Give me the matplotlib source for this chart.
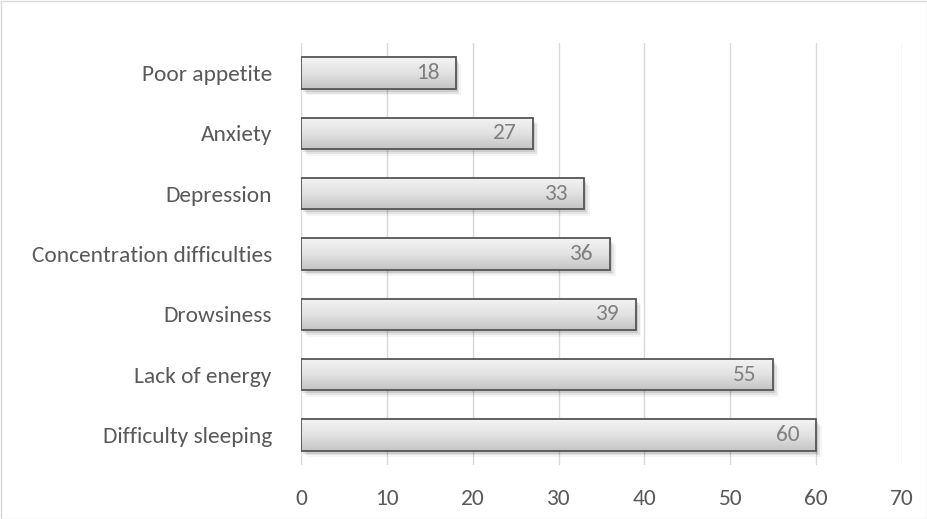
import numpy as np
import matplotlib.pyplot as plt
from matplotlib.patches import Rectangle
from matplotlib.colors import LinearSegmentedColormap

plt.rcParams['font.family'] = ['Carlito', 'Lato', 'DejaVu Sans']

# data
symptoms = ['Difficulty sleeping', 'Lack of energy', 'Drowsiness',
            'Concentration difficulties', 'Depression', 'Anxiety', 'Poor appetite']
counts = [60, 55, 39, 36, 33, 27, 18]
xticks = [0, 10, 20, 30, 40, 50, 60, 70]

fig = plt.figure(figsize=(9.28, 5.19), dpi=100)
ax = fig.add_axes([301/928, 1-465/519, (902-301)/928, (465-43)/519])

y = np.arange(len(symptoms))
bar_h = 0.52
fs = 16.8

# gradient used for each bar (light top -> darker bottom)
grad = np.linspace(0, 1, 256).reshape(-1, 1)
cmap = LinearSegmentedColormap.from_list('bar', ['#f4f4f4', '#e2e2e2', '#c4c4c4'])

bars = ax.barh(y, counts, height=bar_h, color='none', edgecolor='#555555',
               linewidth=1.3, zorder=4)
for b, v in zip(bars, counts):
    x0, y0 = b.get_x(), b.get_y()
    w, h = b.get_width(), b.get_height()
    # soft shadow
    for k, a in enumerate([0.10, 0.07, 0.04]):
        off = 0.25 + 0.2 * k
        ax.add_patch(Rectangle((x0 + off, y0 - 0.05 - 0.03 * k), w, h,
                               facecolor='#000000', alpha=a, lw=0, zorder=2))
    im = ax.imshow(grad, cmap=cmap, aspect='auto',
                   extent=[x0, x0 + w, y0, y0 + h], origin='upper', zorder=3)
    im.set_clip_path(b)
    ax.text(v - 1.9, y0 + h / 2, str(v), ha='right', va='center',
            fontsize=fs, color='#7f7f7f', zorder=5)

ax.set_xlim(0, 70)
ax.set_ylim(-0.5, len(symptoms) - 0.5)
ax.set_xticks(xticks)
ax.set_yticks(y)
ax.set_yticklabels(symptoms)
ax.tick_params(axis='both', length=0, labelsize=fs, labelcolor='#595959')
ax.tick_params(axis='x', pad=17)
ax.tick_params(axis='y', pad=21)
ax.xaxis.grid(True, color='#d9d9d9', linewidth=1.0, zorder=0)
ax.set_axisbelow(True)
for s in ax.spines.values():
    s.set_visible(False)

# light outer border of the chart area
fig.add_artist(Rectangle((0.5/928, 0.5/519), 1-1/928, 1-1/519,
                         transform=fig.transFigure, fill=False,
                         edgecolor='#d9d9d9', linewidth=1.0))

fig.savefig('out.png', dpi=100)
